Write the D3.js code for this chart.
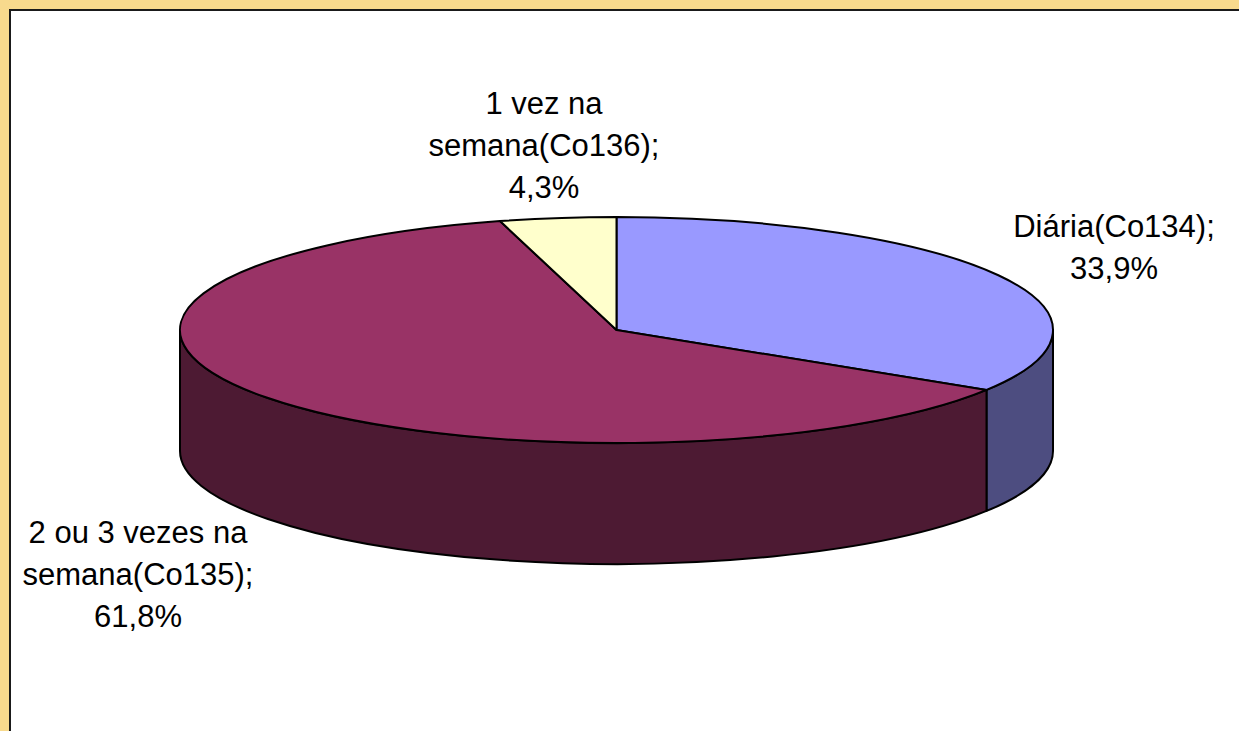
<!DOCTYPE html>
<html>
<head>
<meta charset="utf-8">
<script src="https://cdn.jsdelivr.net/npm/d3@7"></script>
<style>
  html, body { margin: 0; padding: 0; background: #ffffff; }
  svg { display: block; }
</style>
</head>
<body>
<svg id="chart" width="1239" height="731"></svg>
<script>
// Data
const categoryLines = [
    ["Diária(Co134);"],
    ["2 ou 3 vezes na", "semana(Co135);"],
    ["1 vez na", "semana(Co136);"]
];
const values = [33.9, 61.8, 4.3];
const topColors = ["#9999FF", "#993366", "#FFFFCC"];
const sideColors = ["#4D4D80", "#4D1A33", "#80806A"];

const W = 1239, H = 731;
const svg = d3.select("#chart");

// frame: yellow border with black edge, white plot area
svg.append("rect").attr("width", W).attr("height", H).attr("fill", "#F8DA8D");
svg.append("rect").attr("x", 10).attr("y", 10).attr("width", W - 10).attr("height", H - 10).attr("fill", "#ffffff");
svg.append("path")
    .attr("d", `M10,${H} L10,10 L${W},10`)
    .attr("fill", "none")
    .attr("stroke", "#1a1a1a")
    .attr("stroke-width", 2);

// 3D pie geometry
const cx = 616.5, cy = 330, rx = 436.5, ry = 113, depth = 121;
const pt = (a, dy = 0) => [cx + rx * Math.sin(a), cy - ry * Math.cos(a) + dy];

const arcs = d3.pie().sort(null).value(d => d)(values);

const ptFmt = d3.formatLocale({ decimal: ",", thousands: ".", grouping: [3], currency: ["R$", ""] }).format(".1f");

const g = svg.append("g")
    .attr("stroke", "#000")
    .attr("stroke-width", 2)
    .attr("stroke-linejoin", "round");

// front sides (visible between 90° and 270°)
arcs.forEach((d, i) => {
    const s = Math.max(d.startAngle, Math.PI / 2);
    const e = Math.min(d.endAngle, 3 * Math.PI / 2);
    if (s >= e) return;
    const p0 = pt(s), p1 = pt(e), q1 = pt(e, depth), q0 = pt(s, depth);
    const large = (e - s) > Math.PI ? 1 : 0;
    const path = `M${p0} A${rx},${ry} 0 ${large} 1 ${p1} L${q1} A${rx},${ry} 0 ${large} 0 ${q0} Z`;
    g.append("path").attr("d", path).attr("fill", sideColors[i]);
});

// top faces
arcs.forEach((d, i) => {
    const p0 = pt(d.startAngle), p1 = pt(d.endAngle);
    const large = (d.endAngle - d.startAngle) > Math.PI ? 1 : 0;
    const path = `M${cx},${cy} L${p0} A${rx},${ry} 0 ${large} 1 ${p1} Z`;
    g.append("path").attr("d", path).attr("fill", topColors[i]);
});

// data labels
const labelPos = [[1114, 237], [138, 543], [544, 114]];
const lineH = 42;
arcs.forEach((d, i) => {
    const lines = categoryLines[i].concat([ptFmt(d.data) + "%"]);
    const t = svg.append("text")
        .attr("text-anchor", "middle")
        .attr("font-family", "Arial, 'Liberation Sans', sans-serif")
        .attr("font-size", 31)
        .attr("fill", "#000");
    lines.forEach((ln, k) => {
        t.append("tspan")
            .attr("x", labelPos[i][0])
            .attr("y", labelPos[i][1] + k * lineH)
            .text(ln);
    });
});
</script>
</body>
</html>
